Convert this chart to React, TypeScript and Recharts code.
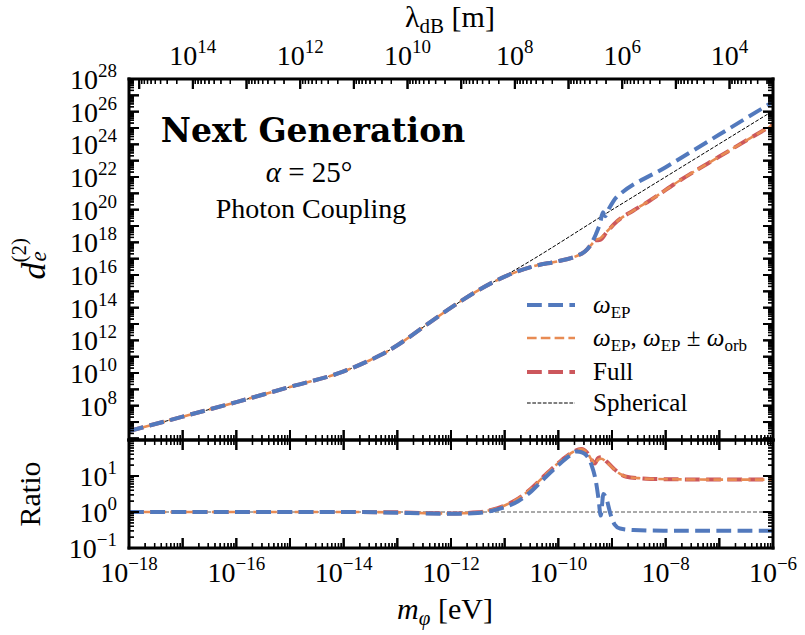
import type { CSSProperties, ReactNode } from 'react'
import { ComposedChart, Line, ReferenceLine, Scatter, XAxis, YAxis } from 'recharts'

const SERIF = '"Liberation Serif", "DejaVu Serif", serif'

// Upper panel, everything in log10: m_phi [eV] and d_e^(2)
// low-mass branch shared by all curves
const sharedMassExp = [-18, -17, -16, -15, -14, -13.5, -13.2, -13, -12.5, -12, -11.5, -11, -10.5, -10, -9.75, -9.6, -9.5]
const sharedCouplingExp = [6.45, 7.33, 8.22, 9.15, 10.1, 10.8, 11.3, 11.7, 12.85, 14.0, 15.05, 15.9, 16.5, 16.85, 17.05, 17.25, 17.45]

// omega_EP only, above the resonance
const epMassExp = [-9.4, -9.3, -9.22, -9.17, -9.13, -9.05, -8.92, -8.85, -8, -7, -6]
const epCouplingExp = [17.85, 18.5, 19.2, 19.85, 19.6, 20.1, 20.75, 20.95, 22.6, 24.6, 26.6]

// omega_EP plus orbital sidebands
const sidebandMassExp = [-9.4, -9.3, -9.22, -9.1, -8.9, -8.6, -8.3, -7.73, -7, -6]
const sidebandCouplingExp = [17.8, 18.15, 18.25, 18.65, 19.3, 19.95, 20.55, 21.8, 23.25, 25.2]

// full signal
const fullCouplingExp = [17.8, 18.12, 18.15, 18.62, 19.3, 19.95, 20.55, 21.8, 23.25, 25.2]

// spherical reference, leaves the curves near 1e-11 eV
const sphericalTailMassExp = [-11.25, -11, -9, -7.5, -6]
const sphericalTailCouplingExp = [15.5, 15.95, 19.99, 23.02, 26.05]

// Lower panel: log10 of spherical / curve
const ratioMassExp = [-18, -16, -14, -13, -12.5, -12, -11.5, -11.25, -11, -10.75, -10.5, -10.25, -10, -9.8]
const epRatioExp = [0, 0, 0, -0.02, -0.04, -0.05, -0.03, 0.03, 0.13, 0.3, 0.58, 0.95, 1.3, 1.55]
const sidebandRatioExp = [0, 0, 0, -0.01, -0.03, -0.04, -0.01, 0.06, 0.18, 0.37, 0.66, 1.02, 1.36, 1.6]

const epRatioTailMassExp = [-9.66, -9.55, -9.47, -9.38, -9.3, -9.25, -9.21, -9.16, -9.1, -9.03, -8.95, -8.85, -8.6, -8, -6]
const epRatioTailExp = [1.68, 1.65, 1.56, 1.3, 0.85, 0.35, -0.1, 0.5, 0.35, -0.05, -0.35, -0.46, -0.5, -0.52, -0.52]

const sidebandRatioTailMassExp = [-9.57, -9.47, -9.38, -9.32, -9.26, -9.2, -9.1, -8.97, -8.85, -8.73, -8.5, -8.29, -7, -6]
const sidebandRatioTailExp = [1.75, 1.66, 1.45, 1.33, 1.45, 1.48, 1.38, 1.2, 1.06, 0.98, 0.94, 0.92, 0.9, 0.9]
const fullRatioTailExp = [1.75, 1.66, 1.45, 1.35, 1.5, 1.52, 1.4, 1.21, 1.06, 0.98, 0.94, 0.92, 0.9, 0.9]

// axis ranges and labelled decades
const massDomainExp = [-18, -6]
const lambdaDomainExp = [3.19, 15.19]
const couplingDomainExp = [5.9, 28]
const ratioDomainExp = [-1, 2]
const massLabelExp = [-18, -16, -14, -12, -10, -8, -6]
const lambdaLabelExp = [14, 12, 10, 8, 6, 4]
const couplingLabelExp = [8, 10, 12, 14, 16, 18, 20, 22, 24, 26, 28]
const ratioLabelExp = [-1, 0, 1]

const BLUE = '#5279bd'
const ORANGE = '#e88b53'
const RED = '#cc575c'

const PLOT = { left: 129, right: 773, top: 79, split: 440, bottom: 548 }

const pts = (xs: number[], ys: number[]) => xs.map((x, i) => ({ m: 10 ** x, v: 10 ** ys[i] }))
const pow = (e: number[]) => [10 ** e[0], 10 ** e[1]] as [number, number]
const isDecade = (v: number) => {
  const e = Math.log10(v)
  return Math.abs(e - Math.round(e)) < 1e-6
}

function logTicks([lo, hi]: number[]) {
  const out: number[] = []
  for (let k = Math.floor(lo); k <= Math.ceil(hi); k++) {
    for (let j = 1; j < 10; j++) {
      const e = Math.log10(j * 10 ** k)
      if (e >= lo - 1e-9 && e <= hi + 1e-9) out.push(j * 10 ** k)
    }
  }
  return out
}

const nSph = sharedMassExp.findIndex((e) => e > -11.5)
const epData = pts([...sharedMassExp, ...epMassExp], [...sharedCouplingExp, ...epCouplingExp])
const sidebandData = pts([...sharedMassExp, ...sidebandMassExp], [...sharedCouplingExp, ...sidebandCouplingExp])
const fullData = pts([...sharedMassExp, ...sidebandMassExp], [...sharedCouplingExp, ...fullCouplingExp])
const sphericalData = pts(
  [...sharedMassExp.slice(0, nSph), ...sphericalTailMassExp],
  [...sharedCouplingExp.slice(0, nSph), ...sphericalTailCouplingExp]
)
const epRatio = pts([...ratioMassExp, ...epRatioTailMassExp], [...epRatioExp, ...epRatioTailExp])
const sidebandRatio = pts([...ratioMassExp, ...sidebandRatioTailMassExp], [...sidebandRatioExp, ...sidebandRatioTailExp])
const fullRatio = pts([...ratioMassExp, ...sidebandRatioTailMassExp], [...sidebandRatioExp, ...fullRatioTailExp])

const massTicks = logTicks(massDomainExp)
const lambdaTicks = logTicks(lambdaDomainExp)
const couplingTicks = logTicks(couplingDomainExp)
const ratioTicks = logTicks(ratioDomainExp)

// tick positions pinned to the frame edges, drawn as scatter marks
const edgeX = (ticks: number[], v: number, key = 'm') => ticks.map((t) => ({ [key]: t, v, major: isDecade(t) }))
const edgeY = (ticks: number[], m: number) => ticks.map((t) => ({ m, v: t, major: isDecade(t) }))

const topBottomMarks = edgeX(massTicks, 10 ** couplingDomainExp[0])
const topLambdaMarks = edgeX(lambdaTicks, 10 ** couplingDomainExp[1], 'l')
const topLeftMarks = edgeY(couplingTicks, 10 ** massDomainExp[0])
const topRightMarks = edgeY(couplingTicks, 10 ** massDomainExp[1])
const ratioBottomMarks = edgeX(massTicks, 10 ** ratioDomainExp[0])
const ratioTopMarks = edgeX(massTicks, 10 ** ratioDomainExp[1])
const ratioLeftMarks = edgeY(ratioTicks, 10 ** massDomainExp[0])
const ratioRightMarks = edgeY(ratioTicks, 10 ** massDomainExp[1])

const MAJOR_LEN = 10
const MINOR_LEN = 5

function TickMark(props: any) {
  const { cx, cy, payload, dir } = props
  if (cx == null || cy == null) return <g />
  const major = payload && payload.major
  const len = major ? MAJOR_LEN : MINOR_LEN
  const dx = dir === 'right' ? len : dir === 'left' ? -len : 0
  const dy = dir === 'down' ? len : dir === 'up' ? -len : 0
  return <line x1={cx} y1={cy} x2={cx + dx} y2={cy + dy} stroke="#000" strokeWidth={major ? 2 : 1.3} />
}

function Power({ x, y, exp, anchor }: { x: number; y: number; exp: number; anchor: 'start' | 'middle' | 'end' }) {
  return (
    <text x={x} y={y} textAnchor={anchor} fontFamily={SERIF} fontSize={28} fill="#000">
      10
      <tspan dy={-12} fontSize={19}>
        {exp < 0 ? `\u2212${-exp}` : exp}
      </tspan>
    </text>
  )
}

// inward tick marks plus the power-of-ten labels
function EdgeTick(props: any) {
  const { x, y, payload, side, labels } = props
  const e = Math.log10(payload.value)
  const major = isDecade(payload.value)
  const len = major ? MAJOR_LEN : MINOR_LEN
  let x2 = x
  let y2 = y
  if (side === 'bottom') y2 = y - len
  if (side === 'top') y2 = y + len
  if (side === 'left') x2 = x + len
  if (side === 'right') x2 = x - len
  const showLabel = major && labels && labels.includes(Math.round(e))
  return (
    <g>
      <line x1={x} y1={y} x2={x2} y2={y2} stroke="#000" strokeWidth={major ? 2 : 1.3} />
      {showLabel && side === 'bottom' && <Power x={x} y={y + 34} exp={Math.round(e)} anchor="middle" />}
      {showLabel && side === 'top' && <Power x={x} y={y - 14} exp={Math.round(e)} anchor="middle" />}
      {showLabel && side === 'left' && <Power x={x - 12} y={y + 10} exp={Math.round(e)} anchor="end" />}
    </g>
  )
}

const frame = { stroke: '#000', strokeWidth: 3, strokeLinecap: 'square' as const }

// text placed by its baseline; rotate = -90 turns it to read upwards
function Label({ x, y, size, children, bold, family, rotate }: { x: number; y: number; size: number; children: ReactNode; bold?: boolean; family?: string; rotate?: number }) {
  const outer: CSSProperties = { position: 'absolute', left: x, top: y, width: 0, height: 0, transformOrigin: '0 0', transform: rotate ? `rotate(${rotate}deg)` : undefined }
  const inner: CSSProperties = {
    position: 'absolute',
    left: 0,
    top: 0,
    transform: 'translate(-50%, -84%)',
    whiteSpace: 'nowrap',
    lineHeight: 1,
    fontSize: size,
    fontFamily: family ?? SERIF,
    fontWeight: bold ? 'bold' : 'normal',
    color: '#000',
  }
  return (
    <div style={outer}>
      <div style={inner}>{children}</div>
    </div>
  )
}

const sub = (size: number, drop: number): CSSProperties => ({ fontSize: size, verticalAlign: -drop, lineHeight: 0 })

function Omega({ s }: { s: string }) {
  return (
    <>
      <i>ω</i>
      <span style={sub(17, 5)}>{s}</span>
    </>
  )
}

const legendRows = [
  { key: 'ep', color: BLUE, width: 4, dash: '14.8 6.4', text: <Omega s="EP" /> },
  {
    key: 'sideband',
    color: ORANGE,
    width: 2.6,
    dash: '9.6 4.2',
    text: (
      <>
        <Omega s="EP" />, <Omega s="EP" /> ± <Omega s="orb" />
      </>
    ),
  },
  { key: 'full', color: RED, width: 4, dash: '14.8 6.4', text: <>Full</> },
  { key: 'spherical', color: '#000', width: 1, dash: '3.7 1.6', text: <>Spherical</> },
]
const legendY = [305, 338, 372, 403]

export default function App() {
  const W = 805
  const H = 635

  const axisCommon = {
    type: 'number' as const,
    scale: 'log' as const,
    allowDataOverflow: true,
    interval: 0,
    tickSize: 0,
    tickMargin: 0,
    axisLine: frame,
    tickLine: false,
  }
  const marks = (data: any[], dir: string, extra: Record<string, string> = {}) => (
    <Scatter data={data} dataKey="v" shape={<TickMark dir={dir} />} legendType="none" isAnimationActive={false} {...extra} />
  )

  return (
    <div style={{ position: 'absolute', left: 0, top: 0, width: W, height: H, background: '#fff', fontFamily: SERIF }}>
      <div style={{ position: 'absolute', left: 0, top: 0 }}>
        <ComposedChart
          width={W}
          height={H}
          margin={{ top: PLOT.top - 40, right: W - PLOT.right - 10, bottom: H - PLOT.split - 10, left: PLOT.left - 60 }}
        >
          <XAxis {...axisCommon} dataKey="m" domain={pow(massDomainExp)} ticks={massTicks} height={10} tick={<EdgeTick side="bottom" />} />
          <XAxis
            {...axisCommon}
            xAxisId="lambda"
            dataKey="l"
            orientation="top"
            reversed
            domain={pow(lambdaDomainExp)}
            ticks={lambdaTicks}
            height={40}
            tick={<EdgeTick side="top" labels={lambdaLabelExp} />}
          />
          <YAxis {...axisCommon} domain={pow(couplingDomainExp)} ticks={couplingTicks} width={60} tick={<EdgeTick side="left" labels={couplingLabelExp} />} />
          <YAxis {...axisCommon} yAxisId="right" orientation="right" domain={pow(couplingDomainExp)} ticks={couplingTicks} width={10} tick={<EdgeTick side="right" />} />
          {marks(topBottomMarks, 'up')}
          {marks(topLeftMarks, 'right')}
          {marks(topRightMarks, 'left')}
          {marks(topLambdaMarks, 'down', { xAxisId: 'lambda', yAxisId: 'right' })}
          <Line data={sphericalData} dataKey="v" type="monotone" stroke="#000" strokeWidth={1} strokeDasharray="3.7 1.6" dot={false} isAnimationActive={false} />
          <Line data={fullData} dataKey="v" type="monotone" stroke={RED} strokeWidth={4} strokeDasharray="14.8 6.4" dot={false} isAnimationActive={false} />
          <Line data={sidebandData} dataKey="v" type="monotone" stroke={ORANGE} strokeWidth={2.6} strokeDasharray="9.6 4.2" dot={false} isAnimationActive={false} />
          <Line data={epData} dataKey="v" type="monotone" stroke={BLUE} strokeWidth={4} strokeDasharray="14.8 6.4" dot={false} isAnimationActive={false} />
        </ComposedChart>
      </div>

      <div style={{ position: 'absolute', left: 0, top: 0 }}>
        <ComposedChart
          width={W}
          height={H}
          margin={{ top: PLOT.split - 10, right: W - PLOT.right - 10, bottom: H - PLOT.bottom - 40, left: PLOT.left - 60 }}
        >
          <XAxis {...axisCommon} dataKey="m" domain={pow(massDomainExp)} ticks={massTicks} height={40} tick={<EdgeTick side="bottom" labels={massLabelExp} />} />
          <XAxis {...axisCommon} xAxisId="top" dataKey="m" orientation="top" domain={pow(massDomainExp)} ticks={massTicks} height={10} tick={<EdgeTick side="top" />} />
          <YAxis {...axisCommon} domain={pow(ratioDomainExp)} ticks={ratioTicks} width={60} tick={<EdgeTick side="left" labels={ratioLabelExp} />} />
          <YAxis {...axisCommon} yAxisId="right" orientation="right" domain={pow(ratioDomainExp)} ticks={ratioTicks} width={10} tick={<EdgeTick side="right" />} />
          {marks(ratioBottomMarks, 'up')}
          {marks(ratioLeftMarks, 'right')}
          {marks(ratioRightMarks, 'left')}
          {marks(ratioTopMarks, 'down', { xAxisId: 'top', yAxisId: 'right' })}
          <ReferenceLine y={1} stroke="#555" strokeWidth={1} strokeDasharray="4 2" />
          <Line data={fullRatio} dataKey="v" type="monotone" stroke={RED} strokeWidth={4} strokeDasharray="14.8 6.4" dot={false} isAnimationActive={false} />
          <Line data={sidebandRatio} dataKey="v" type="monotone" stroke={ORANGE} strokeWidth={2.6} strokeDasharray="9.6 4.2" dot={false} isAnimationActive={false} />
          <Line data={epRatio} dataKey="v" type="monotone" stroke={BLUE} strokeWidth={4} strokeDasharray="14.8 6.4" dot={false} isAnimationActive={false} />
        </ComposedChart>
      </div>

      {/* axis titles and annotation */}
      <Label x={450} y={27} size={30}>
        λ<span style={sub(21, 6)}>dB</span> [m]
      </Label>
      <Label x={445} y={619} size={30}>
        <i>m</i>
        <i style={sub(21, 6)}>φ</i> [eV]
      </Label>
      <Label x={46} y={262} size={34} rotate={-90}>
        <i>d</i>
        <span style={{ display: 'inline-block', position: 'relative', width: 18, height: 0 }}>
          <i style={{ position: 'absolute', left: 1, top: -6, fontSize: 23, lineHeight: 0 }}>e</i>
          <span style={{ position: 'absolute', left: 0, top: -26, fontSize: 21, lineHeight: 0 }}>(2)</span>
        </span>
      </Label>
      <Label x={40} y={494} size={30} rotate={-90}>
        Ratio
      </Label>
      <Label x={313} y={142} size={33} bold family='"DejaVu Serif", serif'>
        Next Generation
      </Label>
      <Label x={309} y={182} size={29}>
        <i>α</i> = 25°
      </Label>
      <Label x={311} y={219} size={28}>
        Photon Coupling
      </Label>

      {/* legend */}
      {legendRows.map((r, i) => (
        <div key={r.key}>
          <svg width={50} height={10} style={{ position: 'absolute', left: 526, top: legendY[i] - 5 }}>
            <line x1={1} x2={49} y1={5} y2={5} stroke={r.color} strokeWidth={r.width} strokeDasharray={r.dash} />
          </svg>
          <div style={{ position: 'absolute', left: 593, top: legendY[i] + 8, width: 0, height: 0 }}>
            <div style={{ position: 'absolute', left: 0, top: 0, transform: 'translateY(-84%)', whiteSpace: 'nowrap', lineHeight: 1, fontSize: 25, fontFamily: SERIF }}>
              {r.text}
            </div>
          </div>
        </div>
      ))}
    </div>
  )
}
